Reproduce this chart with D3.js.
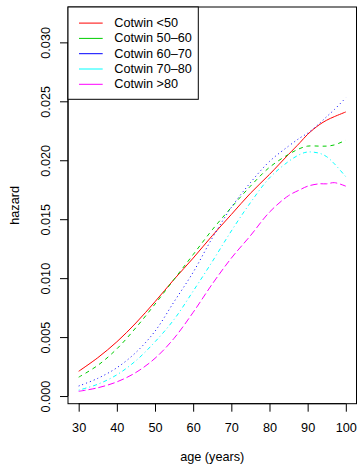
<!DOCTYPE html>
<html><head><meta charset="utf-8">
<script src="https://cdn.jsdelivr.net/npm/d3@7"></script>
<style>body{margin:0;background:#fff}svg{display:block}text{font-family:"Liberation Sans",Arial,sans-serif;fill:#000}</style>
</head><body><svg id="c" width="358" height="464"></svg>
<script>
const ages = [30,35,40,45,50,55,60,65,70,75,80,85,88,90,93,95,97,100];
const seriesNames = ["Cotwin <50","Cotwin 50\u201360","Cotwin 60\u201370","Cotwin 70\u201380","Cotwin >80"];
const cotwinLt50 = [0.0021,0.00325,0.0046,0.0062,0.0080,0.0099,0.0117,0.0136,0.0154,0.0172,0.0188,0.0205,0.0215,0.0222,0.0230,0.0234,0.0237,0.0241];
const cotwin5060 = [0.0016,0.0026,0.0040,0.0058,0.0078,0.0099,0.0120,0.0141,0.0160,0.0178,0.0194,0.0205,0.0210,0.0212,0.0212,0.0212,0.0213,0.0217];
const cotwin6070 = [0.00085,0.0015,0.0024,0.0037,0.0055,0.0080,0.0105,0.0134,0.0160,0.0181,0.0199,0.0212,0.0219,0.0223,0.0231,0.0237,0.0243,0.0253];
const cotwin7080 = [0.0005,0.0010,0.0018,0.0030,0.0046,0.0065,0.0089,0.0114,0.0140,0.0164,0.0185,0.0199,0.0205,0.0207,0.0206,0.0203,0.0197,0.0186];
const cotwinGt80 = [0.0004,0.0007,0.0012,0.0020,0.0032,0.0049,0.0071,0.0095,0.0117,0.0136,0.0156,0.0170,0.0175,0.0178,0.0180,0.0180,0.0181,0.0178];
const xTicks = [30,40,50,60,70,80,90,100];
const yTicks = [0,0.005,0.010,0.015,0.020,0.025,0.030];

const colors = ["#FF0000","#00CD00","#0000FF","#00FFFF","#FF00FF"];
const dashes = [null,"4,4","1,3","1,3,4,3","7,3"];
const allSeries = [cotwinLt50,cotwin5060,cotwin6070,cotwin7080,cotwinGt80];

const L=68, R=356.5, T=7, B=403.7;
const svg = d3.select("#c");
const x = d3.scaleLinear().domain([27.2,102.8]).range([L,R]);
const y = d3.scaleLinear().domain([-0.00065,0.033]).range([B,T]);
const fs = "12.7px";

const line = d3.line().x(d=>x(d[0])).y(d=>y(d[1])).curve(d3.curveCatmullRom.alpha(0.5));
allSeries.forEach((s,i)=>{
  svg.append("path").datum(ages.map((a,j)=>[a,s[j]]))
    .attr("d",line).attr("fill","none").attr("stroke",colors[i]).attr("stroke-width",1)
    .attr("stroke-dasharray",dashes[i]);
});

svg.append("rect").attr("x",L).attr("y",T).attr("width",R-L).attr("height",B-T)
  .attr("fill","none").attr("stroke","#000").attr("stroke-width",1);

const xa = svg.append("g").attr("transform",`translate(0,${B})`)
  .call(d3.axisBottom(x).tickValues(xTicks).tickSize(8).tickPadding(0).tickFormat(d3.format("d")));
xa.select(".domain").attr("d",`M${x(30)},0H${x(100)}`);
xa.selectAll("text").attr("font-size",fs).attr("font-family","Liberation Sans, Arial, sans-serif")
  .attr("y",427.7-B).attr("dy","0.35em");

const ya = svg.append("g").attr("transform",`translate(${L},0)`)
  .call(d3.axisLeft(y).tickValues(yTicks).tickSize(8).tickFormat(d3.format(".3f")));
ya.select(".domain").attr("d",`M0,${y(0)}V${y(0.030)}`);
ya.selectAll(".tick text").attr("font-size",fs).attr("font-family","Liberation Sans, Arial, sans-serif")
  .attr("text-anchor","middle").attr("x",0).attr("dy","0.35em")
  .attr("transform",`translate(${45.8-L},0) rotate(-90)`);
svg.selectAll(".tick line, .domain").attr("stroke","#000");

svg.append("text").attr("x",(L+R)/2).attr("y",457).attr("text-anchor","middle")
  .attr("dominant-baseline","central").attr("font-size",fs).text("age (years)");
svg.append("text").attr("transform",`translate(14.7,${(T+B)/2}) rotate(-90)`)
  .attr("text-anchor","middle").attr("dominant-baseline","central").attr("font-size",fs).text("hazard");

const lg = svg.append("g");
lg.append("rect").attr("x",L).attr("y",T).attr("width",198.3-L).attr("height",99.3-T)
  .attr("fill","#fff").attr("stroke","#000").attr("stroke-width",1);
seriesNames.forEach((n,i)=>{
  const yy = 23.1 + i*15.3;
  lg.append("line").attr("x1",79).attr("x2",102.7).attr("y1",yy).attr("y2",yy)
    .attr("stroke",colors[i]).attr("stroke-width",1);
  lg.append("text").attr("x",114.3).attr("y",yy).attr("dominant-baseline","central")
    .attr("font-size",fs).text(n);
});
</script></body></html>
